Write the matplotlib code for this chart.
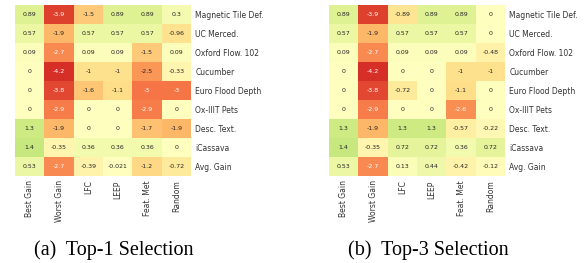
import numpy as np
import pandas as pd
import matplotlib
matplotlib.use('Agg')
import matplotlib.pyplot as plt
import seaborn as sns

methods = ['Best Gain', 'Worst Gain', 'LFC', 'LEEP', 'Feat. Met', 'Random']
datasets = ['Magnetic Tile Def.', 'UC Merced.', 'Oxford Flow. 102', 'Cucumber',
            'Euro Flood Depth', 'Ox-IIIT Pets', 'Desc. Text.', 'iCassava', 'Avg. Gain']

# Top-1 selection gains
top1 = [
    [0.89, -3.9, -1.5, 0.89, 0.89, 0.3],
    [0.57, -1.9, 0.57, 0.57, 0.57, -0.96],
    [0.09, -2.7, 0.09, 0.09, -1.5, 0.09],
    [0, -4.2, -1, -1, -2.5, -0.33],
    [0, -3.8, -1.6, -1.1, -3, -3],
    [0, -2.9, 0, 0, -2.9, 0],
    [1.3, -1.9, 0, 0, -1.7, -1.9],
    [1.4, -0.35, 0.36, 0.36, 0.36, 0],
    [0.53, -2.7, -0.39, -0.021, -1.2, -0.72],
]

# Top-3 selection gains
top3 = [
    [0.89, -3.9, -0.89, 0.89, 0.89, 0],
    [0.57, -1.9, 0.57, 0.57, 0.57, 0],
    [0.09, -2.7, 0.09, 0.09, 0.09, -0.48],
    [0, -4.2, 0, 0, -1, -1],
    [0, -3.8, -0.72, 0, -1.1, 0],
    [0, -2.9, 0, 0, -2.6, 0],
    [1.3, -1.9, 1.3, 1.3, -0.57, -0.22],
    [1.4, -0.35, 0.72, 0.72, 0.36, 0.72],
    [0.53, -2.7, 0.13, 0.44, -0.42, -0.12],
]

captions = ['(a)  Top-1 Selection', '(b)  Top-3 Selection']

fig = plt.figure(figsize=(5.84, 2.63), dpi=100)
ax1 = fig.add_axes([0.0257, 0.3308, 0.3014, 0.650])
ax2 = fig.add_axes([0.5634, 0.3308, 0.3014, 0.650])

for ax, vals in zip([ax1, ax2], [top1, top3]):
    df = pd.DataFrame(vals, index=datasets, columns=methods)
    sns.heatmap(df, ax=ax, cmap='RdYlGn', vmin=-5.25, vmax=5.25, center=0,
                annot=True, fmt='.2g', cbar=False, annot_kws={'fontsize': 4.5})
    ax.yaxis.tick_right()
    ax.set_yticklabels(datasets, rotation=0, fontsize=5.5, color='0.2')
    ax.set_xticklabels(methods, rotation=90, fontsize=5.5, color='0.2')
    ax.tick_params(length=0, pad=3)

fig.text(0.195, 0.049, captions[0], ha='center', va='center',
         family='Liberation Serif', fontsize=14.5)
fig.text(0.733, 0.049, captions[1], ha='center', va='center',
         family='Liberation Serif', fontsize=14.5)

fig.savefig('out.png', dpi=100)
